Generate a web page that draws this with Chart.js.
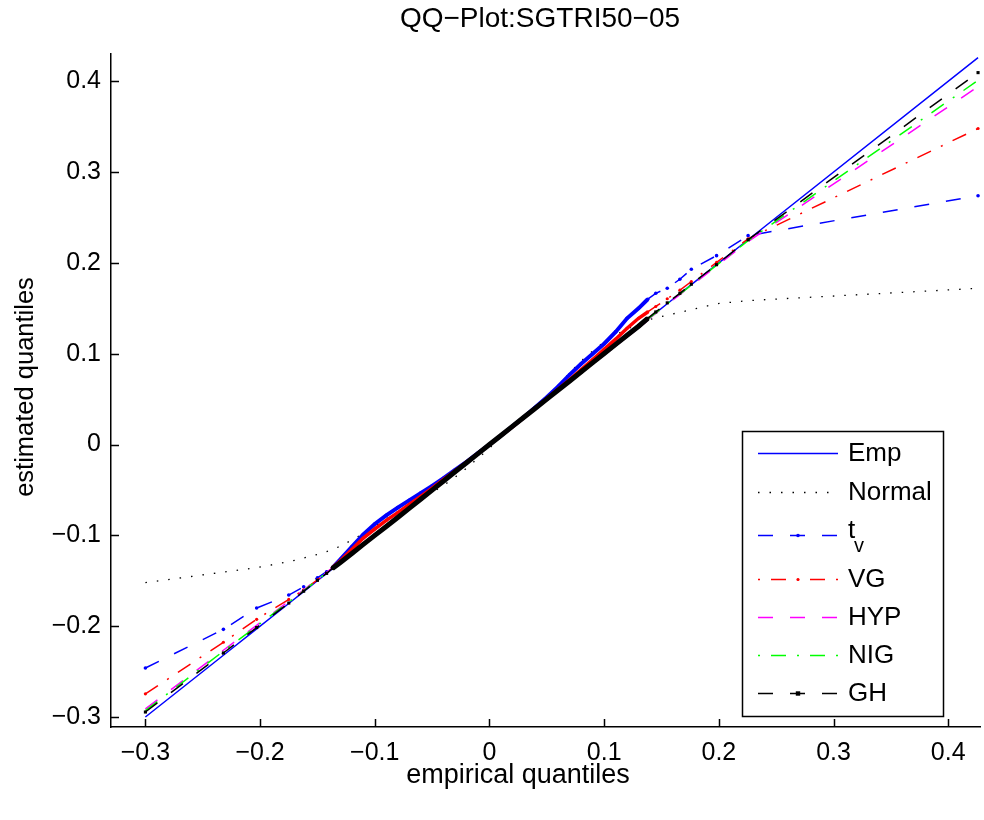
<!DOCTYPE html>
<html>
<head>
<meta charset="utf-8">
<script src="https://cdn.jsdelivr.net/npm/chart.js@4/dist/chart.umd.min.js"></script>
<style>
  html, body { margin: 0; padding: 0; background: #fff; }
</style>
</head>
<body>
<canvas id="chart" width="984" height="820"></canvas>
<script>
// empirical quantiles (sorted sample, tails sparse, centre dense)
const quantX = [-0.300, -0.232, -0.203, -0.175, -0.162, -0.150, -0.142, -0.137,
  -0.130, -0.120, -0.110, -0.100, -0.090, -0.080, -0.070, -0.060, -0.050, -0.040, -0.030,
  -0.020, -0.010, 0.000, 0.010, 0.020, 0.030, 0.040, 0.050, 0.060, 0.070, 0.080, 0.090,
  0.100, 0.110, 0.120, 0.130,
  0.138, 0.145, 0.155, 0.166, 0.176, 0.198, 0.2255, 0.426]

// estimated quantiles per fitted model
const normalY = [-0.152, -0.1405, -0.1355, -0.129, -0.125, -0.121, -0.118, -0.1155,
  -0.112, -0.105, -0.098, -0.090, -0.082, -0.074, -0.067, -0.060, -0.053, -0.045, -0.036,
  -0.026, -0.015, -0.004, 0.008, 0.019, 0.030, 0.041, 0.052, 0.065, 0.079, 0.092, 0.103,
  0.113, 0.121, 0.127, 0.133,
  0.137, 0.1395, 0.1425, 0.1455, 0.1485, 0.155, 0.1585, 0.172]
const tvY = [-0.246, -0.2035, -0.180, -0.1657, -0.1566, -0.1467, -0.140, -0.1357,
  -0.1265, -0.1125, -0.099, -0.0875, -0.078, -0.0695, -0.0615, -0.0535, -0.0455, -0.037, -0.028,
  -0.019, -0.0095, 0.000, 0.010, 0.020, 0.030, 0.041, 0.052, 0.064, 0.077, 0.089, 0.100,
  0.111, 0.124, 0.139, 0.150,
  0.160, 0.1665, 0.172, 0.182, 0.193, 0.208, 0.230, 0.274]
const vgY = [-0.2745, -0.2177, -0.1924, -0.1705, -0.160, -0.149, -0.1415, -0.1355,
  -0.128, -0.1155, -0.103, -0.093, -0.0835, -0.075, -0.066, -0.057, -0.048, -0.0385, -0.029,
  -0.0195, -0.0098, 0.000, 0.0098, 0.0195, 0.0295, 0.040, 0.0505, 0.061, 0.0715, 0.0825, 0.0935,
  0.105, 0.116, 0.128, 0.139,
  0.146, 0.152, 0.1605, 0.170, 0.1795, 0.2005, 0.2265, 0.348]
const hypY = [-0.291, -0.2265, -0.199, -0.1725, -0.160, -0.1485, -0.1408, -0.1358,
  -0.129, -0.1192, -0.1093, -0.0994, -0.0895, -0.0796, -0.0697, -0.0598, -0.0499, -0.0399, -0.0299,
  -0.0199, -0.0099, 0.000, 0.0099, 0.0199, 0.0299, 0.0399, 0.0499, 0.0598, 0.0698, 0.0797, 0.0896,
  0.0995, 0.1094, 0.1193, 0.1292,
  0.1375, 0.1445, 0.1545, 0.165, 0.175, 0.1965, 0.2235, 0.394]
const nigY = [-0.293, -0.2275, -0.200, -0.1735, -0.161, -0.149, -0.1412, -0.136,
  -0.1295, -0.1195, -0.1096, -0.0996, -0.0897, -0.0797, -0.0698, -0.0598, -0.0499, -0.0399, -0.0299,
  -0.020, -0.010, 0.000, 0.010, 0.020, 0.0299, 0.0399, 0.0499, 0.0599, 0.0699, 0.0798, 0.0898,
  0.0998, 0.1097, 0.1197, 0.1296,
  0.138, 0.145, 0.155, 0.1655, 0.1755, 0.1975, 0.2245, 0.401]
const ghY = [-0.2945, -0.2295, -0.2015, -0.1745, -0.1615, -0.1495, -0.1418, -0.1365,
  -0.1298, -0.1199, -0.1099, -0.100, -0.0902, -0.0803, -0.0703, -0.0603, -0.0502, -0.0401, -0.030,
  -0.020, -0.010, 0.000, 0.010, 0.020, 0.030, 0.040, 0.050, 0.060, 0.070, 0.0801, 0.0902,
  0.1002, 0.1103, 0.1203, 0.1303,
  0.139, 0.146, 0.156, 0.1665, 0.1765, 0.198, 0.2255, 0.4095]

const xTickVals = [-0.3, -0.2, -0.1, 0, 0.1, 0.2, 0.3, 0.4]
const yTickVals = [-0.3, -0.2, -0.1, 0, 0.1, 0.2, 0.3, 0.4]

const FONT = '"Liberation Sans", Arial, Helvetica, sans-serif'
const DENSE_FROM = -0.137, DENSE_TO = 0.138

const pts = ys => quantX.map((x, i) => ({ x, y: ys[i] }))
const isDense = ctx => ctx.p0.parsed.x >= DENSE_FROM && ctx.p1.parsed.x <= DENSE_TO

function series(label, ys, color, dash, order, extra) {
  const thick = extra.thick
  return Object.assign({
    label,
    data: pts(ys),
    borderColor: color,
    backgroundColor: color,
    pointBackgroundColor: color,
    pointBorderWidth: 0,
    pointRadius: 0,
    borderWidth: 1.5,
    borderDash: dash,
    tension: 0,
    order,
    segment: thick ? {
      borderWidth: ctx => isDense(ctx) ? thick : undefined,
      borderDash: ctx => isDense(ctx) ? [] : undefined
    } : undefined
  }, extra)
}

const DASH = [15, 17]
const DASHDOT = [15, 11, 2, 11]
const DOT = [1.5, 10]

const datasets = [
  series('Emp', quantX, '#0000ff', [], 7, {}),
  series('Normal', normalY, '#000000', DOT, 6, { borderWidth: 1.3 }),
  series('t', tvY, '#0000ff', DASH, 5, { thick: 4, pointRadius: 1.8, sub: 'v' }),
  series('VG', vgY, '#ff0000', DASHDOT, 4, { thick: 3.5, pointRadius: 1.6 }),
  series('HYP', hypY, '#ff00ff', DASH, 3, { thick: 3 }),
  series('NIG', nigY, '#00ff00', DASHDOT, 2, { thick: 3 }),
  series('GH', ghY, '#000000', DASH, 1, { thick: 5, pointRadius: 2.2, pointStyle: 'rect' })
]

const fmt = v => {
  if (Math.abs(v) < 1e-9) return '0'
  const s = Math.abs(v).toFixed(1)
  return v < 0 ? '\u2212' + s : s
}

const decorations = {
  id: 'decorations',
  afterDraw(chart) {
    const { ctx, chartArea: a, scales: { x, y } } = chart
    ctx.save()
    // inward tick marks
    ctx.strokeStyle = '#000'
    ctx.lineWidth = 1.5
    ctx.beginPath()
    xTickVals.forEach(v => {
      const px = Math.round(x.getPixelForValue(v)) + 0.5
      ctx.moveTo(px, a.bottom)
      ctx.lineTo(px, a.bottom - 8)
    })
    yTickVals.forEach(v => {
      const py = Math.round(y.getPixelForValue(v)) + 0.5
      ctx.moveTo(a.left, py)
      ctx.lineTo(a.left + 8, py)
    })
    ctx.stroke()

    // title and axis labels
    ctx.fillStyle = '#000'
    ctx.textAlign = 'center'
    ctx.textBaseline = 'middle'
    ctx.font = '28px ' + FONT
    ctx.fillText('QQ\u2212Plot:SGTRI50\u221205', 540, 19)
    ctx.font = '27px ' + FONT
    ctx.fillText('empirical quantiles', 518, 776)
    ctx.save()
    ctx.translate(26, 387)
    ctx.rotate(-Math.PI / 2)
    ctx.font = '25.5px ' + FONT
    ctx.fillText('estimated quantiles', 0, 0)
    ctx.restore()

    // legend
    const box = { x: 742, y: 431, w: 201, h: 285 }
    ctx.fillStyle = '#fff'
    ctx.fillRect(box.x, box.y, box.w, box.h)
    ctx.strokeStyle = '#000'
    ctx.lineWidth = 1.5
    ctx.strokeRect(box.x + 0.5, box.y + 0.5, box.w, box.h)
    const rows = [453, 492, 535, 579, 617, 655, 693]
    const x0 = 758, x1 = 838
    datasets.forEach((ds, i) => {
      const ry = rows[i] + 0.5
      ctx.strokeStyle = ds.borderColor
      ctx.lineWidth = ds.label === 'Normal' ? 1.3 : 1.5
      ctx.setLineDash(ds.borderDash)
      // dash-dot samples start on the dot
      ctx.lineDashOffset = ds.borderDash.length === 4 ? ds.borderDash[0] + ds.borderDash[1] : 0
      ctx.beginPath()
      ctx.moveTo(x0, ry)
      ctx.lineTo(x1, ry)
      ctx.stroke()
      ctx.setLineDash([])
      if (ds.pointRadius > 0) {
        const r = ds.pointRadius
        ctx.fillStyle = ds.borderColor
        if (ds.pointStyle === 'rect') {
          ctx.fillRect(798 - r, ry - r, 2 * r, 2 * r)
        } else {
          ctx.beginPath()
          ctx.arc(798, ry, r, 0, Math.PI * 2)
          ctx.fill()
        }
      }
      ctx.fillStyle = '#000'
      ctx.textAlign = 'left'
      if (ds.sub) {
        ctx.textBaseline = 'alphabetic'
        ctx.font = '26px ' + FONT
        ctx.fillText(ds.label, 848, 538)
        ctx.font = '20px ' + FONT
        ctx.fillText(ds.sub, 854, 552)
      } else {
        ctx.textBaseline = 'middle'
        ctx.font = '26px ' + FONT
        ctx.fillText(ds.label, 848, rows[i] + 1)
      }
    })
    ctx.restore()
  }
}

new Chart(document.getElementById('chart'), {
  type: 'line',
  data: { datasets },
  options: {
    responsive: false,
    animation: false,
    devicePixelRatio: 1,
    layout: { padding: { top: 54, right: 0, bottom: 0, left: 0 } },
    plugins: { legend: { display: false }, title: { display: false }, tooltip: { enabled: false } },
    scales: {
      x: {
        type: 'linear',
        min: -0.33,
        max: 0.4277,
        grid: { display: false, drawTicks: false },
        border: { display: true, color: '#000', width: 1.5 },
        afterBuildTicks: s => { s.ticks = xTickVals.map(value => ({ value })) },
        afterFit: s => { s.height = 93 },
        ticks: { color: '#000', font: { family: FONT, size: 25 }, padding: 11, maxRotation: 0, callback: fmt }
      },
      y: {
        type: 'linear',
        min: -0.311,
        max: 0.43,
        grid: { display: false, drawTicks: false },
        border: { display: true, color: '#000', width: 1.5 },
        afterBuildTicks: s => { s.ticks = yTickVals.map(value => ({ value })) },
        afterFit: s => { s.width = 111 },
        ticks: { color: '#000', font: { family: FONT, size: 25 }, padding: 10, callback: fmt }
      }
    }
  },
  plugins: [decorations]
});
</script>
</body>
</html>
